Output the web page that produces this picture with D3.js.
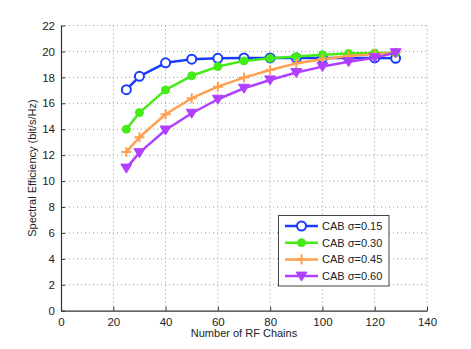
<!DOCTYPE html>
<html><head><meta charset="utf-8">
<script src="https://cdn.jsdelivr.net/npm/d3@7"></script>
<style>body{margin:0;background:#fff}svg{display:block}text{font-family:"Liberation Sans",Arial,sans-serif;fill:#222}</style>
</head><body><svg id="c" width="471" height="349"></svg>
<script>
const xVals = [25, 30, 40, 50, 60, 70, 80, 90, 100, 110, 120, 128];
const sig015 = [17.05, 18.08, 19.12, 19.4, 19.47, 19.5, 19.5, 19.5, 19.5, 19.5, 19.5, 19.47];
const sig030 = [14.0, 15.28, 17.03, 18.12, 18.83, 19.27, 19.47, 19.6, 19.75, 19.84, 19.88, 19.9];
const sig045 = [12.25, 13.38, 15.15, 16.39, 17.28, 17.98, 18.57, 19.08, 19.4, 19.65, 19.8, 19.9];
const sig060 = [11.0, 12.19, 13.94, 15.23, 16.31, 17.16, 17.8, 18.37, 18.83, 19.21, 19.52, 19.9];
const seriesNames = ["CAB \u03c3=0.15", "CAB \u03c3=0.30", "CAB \u03c3=0.45", "CAB \u03c3=0.60"];
const xTicks = [0, 20, 40, 60, 80, 100, 120, 140];
const yTicks = [0, 2, 4, 6, 8, 10, 12, 14, 16, 18, 20, 22];

const colors = ["#1a3cff", "#44ec16", "#ffa050", "#b040ff"];
const markers = ["openCircle", "filledCircle", "plus", "triDown"];
const series = [sig015, sig030, sig045, sig060];

const svg = d3.select("#c");
const L = 61, R = 427, T = 25.5, B = 310.7;
const x = d3.scaleLinear().domain([0, 140]).range([L, R]);
const y = d3.scaleLinear().domain([0, 22]).range([B, T]);

// grid
const g = svg.append("g");
g.selectAll(".vg").data(xTicks.filter(d => d > 0)).enter().append("line")
  .attr("x1", d => x(d)).attr("x2", d => x(d)).attr("y1", T).attr("y2", B)
  .attr("stroke", "#999").attr("stroke-width", 1).attr("stroke-dasharray", "1,3");
g.selectAll(".hg").data(yTicks.filter(d => d > 0)).enter().append("line")
  .attr("x1", L).attr("x2", R).attr("y1", d => y(d)).attr("y2", d => y(d))
  .attr("stroke", "#999").attr("stroke-width", 1).attr("stroke-dasharray", "1,3");

// axes
const xAxis = d3.axisBottom(x).tickValues(xTicks).tickSizeInner(-4).tickSizeOuter(0).tickPadding(7);
const yAxis = d3.axisLeft(y).tickValues(yTicks).tickSizeInner(-4).tickSizeOuter(0).tickPadding(6);
const xa = svg.append("g").attr("transform", `translate(0,${B})`).call(xAxis);
const ya = svg.append("g").attr("transform", `translate(${L},0)`).call(yAxis);
[xa, ya].forEach(a => {
  a.select(".domain").attr("stroke", "#333").attr("stroke-width", 1.2);
  a.selectAll(".tick line").attr("stroke", "#333");
  a.selectAll(".tick text").attr("font-size", 11.5).attr("font-family", "Liberation Sans, Arial, sans-serif").attr("fill", "#222");
});

svg.append("text").attr("x", (L + R) / 2).attr("y", 337).attr("text-anchor", "middle")
  .attr("font-size", 11).text("Number of RF Chains");
svg.append("text").attr("transform", `translate(36,${(T + B) / 2}) rotate(-90)`).attr("text-anchor", "middle")
  .attr("font-size", 11).text("Spectral Efficiency (bit/s/Hz)");

function drawMarker(sel, type, color) {
  if (type === "openCircle") {
    sel.append("circle").attr("r", 4.5).attr("fill", "#fff").attr("stroke", color).attr("stroke-width", 2);
  } else if (type === "filledCircle") {
    sel.append("circle").attr("r", 4).attr("fill", color).attr("stroke", color).attr("stroke-width", 1);
  } else if (type === "plus") {
    sel.append("path").attr("d", "M-5,0H5M0,-5V5").attr("stroke", color).attr("stroke-width", 2).attr("fill", "none");
  } else {
    sel.append("path").attr("d", "M-5.5,-4L5.5,-4L0,5Z").attr("fill", color).attr("stroke", color).attr("stroke-width", 1);
  }
}

const line = d3.line().x((d, i) => x(xVals[i])).y(d => y(d));
series.forEach((s, k) => {
  svg.append("path").datum(s).attr("d", line).attr("fill", "none")
    .attr("stroke", colors[k]).attr("stroke-width", 2.5).attr("stroke-linejoin", "round");
  s.forEach((v, i) => {
    const m = svg.append("g").attr("transform", `translate(${x(xVals[i])},${y(v)})`);
    drawMarker(m, markers[k], colors[k]);
  });
});

// legend
const lg = svg.append("g");
lg.append("rect").attr("x", 278.5).attr("y", 215.5).attr("width", 110.5).attr("height", 70.5)
  .attr("fill", "#fff").attr("stroke", "#444").attr("stroke-width", 1);
seriesNames.forEach((n, k) => {
  const yy = 226 + k * 16.7;
  lg.append("line").attr("x1", 285).attr("x2", 318).attr("y1", yy).attr("y2", yy)
    .attr("stroke", colors[k]).attr("stroke-width", 2.5);
  const m = lg.append("g").attr("transform", `translate(301.5,${yy})`);
  drawMarker(m, markers[k], colors[k]);
  lg.append("text").attr("x", 322).attr("y", yy + 4).attr("font-size", 11).text(n);
});
</script></body></html>
